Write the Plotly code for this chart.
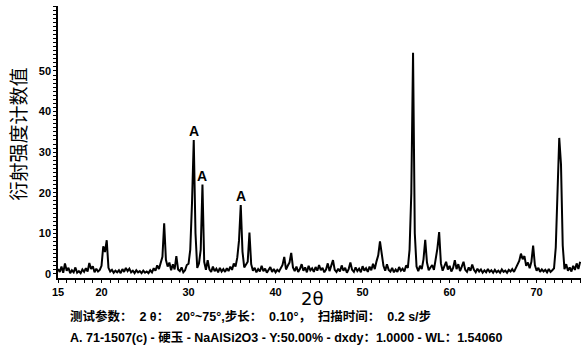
import numpy as np
import plotly.graph_objects as go

# XRD scan, 2θ from 15° to 75° in 0.2° steps; intensities grouped per 5° block
two_theta_start = 15.0
two_theta_step = 0.2

I15 = [1.2, 0.5, 1.8, 0.3, 2.6, 0.8, 1.5, 0.2, 0.9, 0.4, 1.6, 0.3, 0.7, 0.2, 1.1,
       0.5, 1.4, 0.6, 2.7, 1.2, 1.9, 0.4, 1.3, 0.6, 1.0]
I20 = [2.0, 6.8, 5.4, 8.3, 1.5, 0.6, 1.0, 0.3, 0.8, 0.4, 0.9, 0.2, 1.2, 0.5, 1.5,
       0.7, 1.3, 0.4, 0.8, 0.2, 0.9, 0.4, 0.7, 0.2, 0.8]
I25 = [0.3, 0.6, 0.2, 0.9, 0.4, 1.4, 0.8, 2.1, 1.2, 3.0, 4.2, 12.5, 3.5, 1.8, 2.8,
       0.9, 2.4, 1.1, 4.4, 1.1, 0.7, 1.6, 0.4, 0.9, 2.2]
I30 = [2.5, 6.0, 17.5, 33.0, 10.0, 1.5, 2.6, 6.0, 22.0, 3.0, 1.0, 3.4, 1.1, 0.5, 1.8,
       0.7, 1.3, 0.4, 1.5, 0.6, 1.2, 0.5, 1.4, 0.7, 1.8]
I35 = [1.0, 2.6, 1.8, 4.0, 8.2, 17.0, 5.5, 1.6, 2.2, 3.0, 10.2, 2.4, 0.8, 1.5, 0.4,
       1.2, 0.6, 2.0, 0.7, 1.3, 0.3, 1.0, 1.7, 0.5, 1.2]
I40 = [0.4, 1.0, 0.6, 1.4, 2.2, 4.2, 1.1, 2.0, 2.8, 5.2, 1.6, 0.7, 1.8, 0.5, 1.2,
       2.4, 0.8, 1.6, 0.4, 2.0, 0.9, 1.4, 0.5, 1.7, 0.8]
I45 = [2.2, 0.9, 1.5, 0.4, 1.1, 2.6, 0.7, 1.9, 3.4, 1.0, 0.5, 1.3, 0.6, 2.1, 0.8,
       1.5, 0.3, 1.2, 2.8, 1.0, 0.5, 1.6, 0.7, 1.3, 0.4]
I50 = [1.9, 0.8, 1.4, 0.5, 1.8, 0.9, 2.5, 1.2, 3.1, 4.6, 8.0, 5.4, 2.0, 0.8, 2.4,
       1.0, 0.6, 1.5, 0.4, 1.1, 0.5, 1.7, 0.8, 1.3, 0.6]
I55 = [2.1, 1.5, 6.0, 20.0, 54.5, 10.0, 1.8, 0.7, 2.0, 1.2, 3.6, 8.4, 2.8, 0.9, 1.6,
       2.2, 1.0, 3.2, 6.3, 10.3, 2.6, 0.8, 1.9, 3.0, 1.1]
I60 = [2.0, 0.6, 1.5, 3.4, 1.2, 2.4, 0.7, 1.8, 3.0, 1.0, 0.5, 1.6, 0.8, 2.3, 1.0,
       0.4, 1.3, 0.6, 1.1, 0.3, 0.9, 0.4, 1.2, 0.5, 0.9]
I65 = [0.3, 1.0, 0.4, 0.8, 0.3, 1.1, 0.5, 0.8, 0.3, 1.0, 0.6, 1.2, 0.5, 1.4, 2.0,
       3.2, 5.0, 3.6, 4.4, 2.0, 2.8, 1.4, 3.0, 7.0, 2.2]
I70 = [0.8, 1.5, 0.5, 1.1, 0.6, 1.0, 0.4, 1.2, 0.5, 0.9, 1.4, 6.5, 21.0, 33.5, 27.0,
       7.0, 1.2, 2.4, 0.8, 1.6, 0.6, 2.0, 1.0, 2.6, 1.2, 3.0]

# Peaks indexed to phase A (jadeite)
peak_A_2theta = [30.6, 31.6, 36.0]

# Labelled ticks; every whole unit gets an unlabelled tick mark
x_label_vals = [15, 20, 30, 40, 50, 60, 70]
y_label_vals = [0, 10, 20, 30, 40, 50]
x_tick_vals = list(range(15, 76))
y_tick_vals = list(range(0, 67))

intensity = np.array(I15 + I20 + I25 + I30 + I35 + I40 + I45 + I50 + I55 + I60 + I65 + I70)
two_theta = np.round(two_theta_start + two_theta_step * np.arange(len(intensity)), 1)

fig = go.Figure()
fig.add_trace(go.Scatter(
    x=two_theta, y=intensity, mode="lines",
    line=dict(color="black", width=2), hoverinfo="skip", showlegend=False,
))

tick_font = dict(family="Liberation Sans, Arial, sans-serif", size=11, color="black", weight="bold")
note_font = dict(family="Liberation Sans, Noto Sans CJK SC, sans-serif", size=12.5,
                 color="black", weight="bold")

# "A" markers sit on the tops of the indexed peaks
for px in peak_A_2theta:
    idx = int(np.argmin(np.abs(two_theta - px)))
    fig.add_annotation(
        x=two_theta[idx], y=intensity[idx], text="A", showarrow=False,
        xanchor="center", yanchor="bottom", yshift=-1,
        font=dict(family="Liberation Sans, Arial, sans-serif", size=14, color="black", weight="bold"),
    )

fig.add_annotation(
    xref="paper", yref="paper", x=-0.077, y=0.53, text="衍射强度计数值",
    textangle=-90, showarrow=False, xanchor="center", yanchor="middle",
    font=dict(family="Noto Sans CJK SC", size=19, color="black"),
)
fig.add_annotation(
    xref="paper", yref="paper", x=0.486, y=-0.074, text="2θ",
    showarrow=False, xanchor="center", yanchor="middle",
    font=dict(family="DejaVu Sans, sans-serif", size=18, color="black"),
)
fig.add_annotation(
    xref="paper", yref="paper", x=0.019, y=-0.14,
    text="测试参数：\u00a0 2 θ：\u00a0 20°~75°,步长：\u00a0 0.10°，\u00a0 扫描时间：\u00a0 0.2 s/步",
    showarrow=False, xanchor="left", yanchor="middle", font=note_font,
)
fig.add_annotation(
    xref="paper", yref="paper", x=0.019, y=-0.22,
    text="A. 71-1507(c) - 硬玉 - NaAlSi2O3 - Y:50.00% - dxdy：1.0000 - WL：1.54060",
    showarrow=False, xanchor="left", yanchor="middle", font=note_font,
)

fig.update_layout(
    width=581, height=350,
    margin=dict(l=58, r=0, t=6, b=72),
    paper_bgcolor="white", plot_bgcolor="white",
    xaxis=dict(
        range=[15, 75.1], tickmode="array", tickvals=x_tick_vals,
        ticktext=[str(v) if v in x_label_vals else "" for v in x_tick_vals],
        showline=True, linecolor="black", linewidth=1.5, mirror=False,
        ticks="outside", ticklen=3, tickwidth=1.3, tickcolor="black",
        showgrid=False, zeroline=False, tickfont=tick_font,
    ),
    yaxis=dict(
        range=[-1, 66], tickmode="array", tickvals=y_tick_vals,
        ticktext=[str(v) if v in y_label_vals else "" for v in y_tick_vals],
        showline=True, linecolor="black", linewidth=1.5, mirror=False,
        ticks="outside", ticklen=3, tickwidth=1.3, tickcolor="black",
        showgrid=False, zeroline=False, tickfont=tick_font,
    ),
)

fig.write_html("out.html")
